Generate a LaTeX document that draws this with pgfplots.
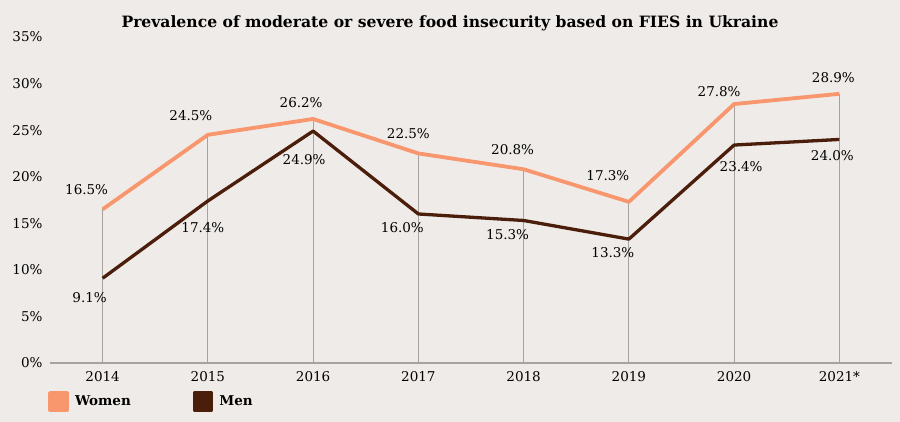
\documentclass[border=0pt]{standalone}
\usepackage{pgfplots}
\pgfplotsset{compat=1.18}
\usepackage{fontspec}
\setmainfont{DejaVu Serif}
\definecolor{bg}{HTML}{EFEBE8}
\definecolor{women}{HTML}{F8966E}
\definecolor{men}{HTML}{4A1E0A}
\definecolor{gridc}{HTML}{A8A29E}
\tikzset{lbl/.style={font=\fontsize{13.5bp}{16bp}\selectfont, inner sep=0pt}}
\begin{document}
\begin{tikzpicture}
\useasboundingbox (0,0) rectangle (900bp,422bp);
\fill[bg] (0,0) rectangle (900bp,422bp);
\begin{axis}[
  at={(50bp,59bp)}, anchor=south west, scale only axis,
  width=842bp, height=326bp,
  xmin=-0.5, xmax=7.5, ymin=0, ymax=35,
  axis x line*=bottom, axis y line*=left,
  x axis line style={draw=gridc, line width=1.2bp, -},
  y axis line style={draw=none},
  xtick={0,...,7},
  xticklabels={2014,2015,2016,2017,2018,2019,2020,2021*},
  ytick={0,5,...,35},
  yticklabels={0\%,5\%,10\%,15\%,20\%,25\%,30\%,35\%},
  major tick length=0pt,
  tick label style={font=\fontsize{13.5bp}{16bp}\selectfont, text=black},
  xticklabel style={yshift=-5bp},
  yticklabel style={xshift=-4bp},
  title={Prevalence of moderate or severe food insecurity based on FIES in Ukraine},
  title style={at={(0.5,1)}, anchor=center, xshift=-21bp, yshift=8bp,
    font=\bfseries\fontsize{15.6bp}{18bp}\selectfont},
  clip=false,
  legend columns=2,
  legend cell align=left,
  legend image code/.code={\fill[#1] (0bp,-8.5bp) rectangle (17bp,8.5bp); \path[draw=none,fill=none] (17bp,0bp) -- (23bp,0bp);},
  legend style={at={(0,0)}, anchor=north west, xshift=-5bp, yshift=-26bp,
    draw=none, fill=none, font=\bfseries\fontsize{13.5bp}{16bp}\selectfont,
    /tikz/every even column/.append style={column sep=60bp}},
]
\addplot[ycomb, draw=gridc, line width=1.2bp, forget plot] coordinates
  {(0,16.5) (1,24.5) (2,26.2) (3,22.5) (4,20.8) (5,17.3) (6,27.8) (7,28.9)};
\addplot[color=women, line width=3.8bp, line join=round] coordinates
  {(0,16.5) (1,24.5) (2,26.2) (3,22.5) (4,20.8) (5,17.3) (6,27.8) (7,28.9)};
\addlegendentry{Women}
\addplot[color=men, line width=3.3bp, line join=round] coordinates
  {(0,9.1) (1,17.4) (2,24.9) (3,16.0) (4,15.3) (5,13.3) (6,23.4) (7,24.0)};
\addlegendentry{Men}
\node[lbl] at (axis cs:0,16.5) [xshift=-16bp, yshift=20bp] {16.5\%};
\node[lbl] at (axis cs:1,24.5) [xshift=-17bp, yshift=19bp] {24.5\%};
\node[lbl] at (axis cs:2,26.2) [xshift=-12bp, yshift=16bp] {26.2\%};
\node[lbl] at (axis cs:3,22.5) [xshift=-10bp, yshift=20bp] {22.5\%};
\node[lbl] at (axis cs:4,20.8) [xshift=-11bp, yshift=20bp] {20.8\%};
\node[lbl] at (axis cs:5,17.3) [xshift=-21bp, yshift=26bp] {17.3\%};
\node[lbl] at (axis cs:6,27.8) [xshift=-15bp, yshift=12bp] {27.8\%};
\node[lbl] at (axis cs:7,28.9) [xshift=-6bp, yshift=16bp] {28.9\%};
\node[lbl] at (axis cs:0,9.1) [xshift=-13bp, yshift=-19bp] {9.1\%};
\node[lbl] at (axis cs:1,17.4) [xshift=-5bp, yshift=-27bp] {17.4\%};
\node[lbl] at (axis cs:2,24.9) [xshift=-9bp, yshift=-29bp] {24.9\%};
\node[lbl] at (axis cs:3,16.0) [xshift=-16bp, yshift=-14bp] {16.0\%};
\node[lbl] at (axis cs:4,15.3) [xshift=-16bp, yshift=-14bp] {15.3\%};
\node[lbl] at (axis cs:5,13.3) [xshift=-16bp, yshift=-13bp] {13.3\%};
\node[lbl] at (axis cs:6,23.4) [xshift=7bp, yshift=-22bp] {23.4\%};
\node[lbl] at (axis cs:7,24.0) [xshift=-7bp, yshift=-16bp] {24.0\%};
\end{axis}
\end{tikzpicture}
\end{document}
